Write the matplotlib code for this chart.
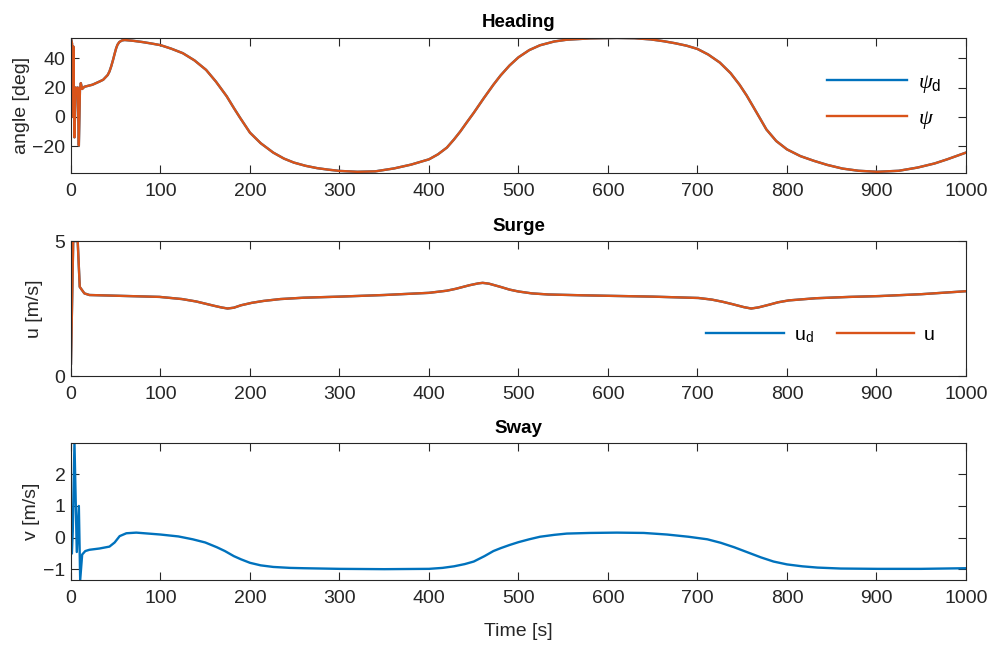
import numpy as np
import matplotlib
matplotlib.use("Agg")
import matplotlib.pyplot as plt

# ---------------- data ----------------
t_heading = [0, 1.2, 2.0, 2.6, 3.9, 5.2, 6.5, 7.5, 8.8, 10, 11, 12.5, 15, 24, 32, 36, 41, 43,
             45, 47, 49, 50.5, 52, 54, 57, 60, 69, 80, 90, 100, 112, 125, 138, 151, 162, 174,
             182, 189, 200, 212, 226, 238, 249, 262, 275, 287, 300, 320, 340, 361, 380, 400,
             410, 420, 428, 435, 442, 450, 461, 472, 480, 490, 500, 512, 524, 540, 554, 580,
             610, 630, 648, 662, 675, 688, 700, 712, 725, 737, 747, 755, 762, 770, 777, 788,
             800, 815, 830, 845, 862, 880, 901, 925, 946, 965, 979, 1000]
psi = [53.5, 50, 0, 48, -14, 20, 18, 20, -19.5, 18, 23, 19, 20.5, 21.9, 24.1, 25.3, 28.5, 30.9,
       34.5, 38.8, 43.5, 46.8, 49.2, 51.0, 52.1, 52.4, 51.9, 51.0, 50.0, 48.9, 46.5, 43.4,
       38.5, 32, 24, 14, 6, -0.7, -10.8, -18, -24.4, -28.5, -31.2, -33.4, -35, -36, -36.9,
       -37.5, -37.2, -35.2, -32.6, -29, -25.6, -21, -15.4, -10, -4, 2.7, 12.5, 21.9, 28.2,
       35.0, 40.6, 45.5, 48.8, 51.4, 52.6, 53.5, 53.8, 53.6, 52.8, 51.6, 50.2, 48.5, 46.3,
       42.5, 37.0, 29.8, 21.9, 14.5, 7.2, -1.2, -8.6, -16.5, -22.2, -26.8, -30, -32.8,
       -35.3, -36.8, -37.5, -36.8, -34.6, -31.8, -29, -24.4]
psi_d = list(psi)

t_surge = [0, 2.5, 7.5, 9.8, 15, 20.6, 43, 99, 124, 140, 150, 160, 168, 175, 182, 190, 202,
           215, 234, 260, 300, 350, 400, 420, 430, 445, 455, 460, 467, 480, 490, 500, 515,
           533, 570, 601, 650, 701, 716, 728, 738, 745, 752, 760, 768, 780, 790, 802, 832,
           870, 903, 950, 1000]
u = [0.46, 5.0, 5.0, 3.3, 3.06, 3.0, 2.98, 2.93, 2.85, 2.76, 2.68, 2.6, 2.54, 2.5, 2.53,
     2.62, 2.71, 2.78, 2.85, 2.9, 2.94, 3.0, 3.08, 3.16, 3.23, 3.36, 3.43, 3.45, 3.42, 3.3,
     3.2, 3.13, 3.06, 3.02, 2.99, 2.97, 2.94, 2.89, 2.83, 2.75, 2.67, 2.61, 2.55, 2.5, 2.54,
     2.64, 2.73, 2.8, 2.88, 2.93, 2.96, 3.03, 3.14]
u_d = list(u)

t_sway = [0, 1, 2, 3.9, 6.5, 8.8, 10.3, 12.5, 16, 20.6, 31.8, 43, 48.8, 54.4, 61.9, 73, 100,
          120, 136, 150, 163, 172, 182, 190, 200, 212, 226, 245, 260, 300, 350, 400, 415,
          428, 440, 450, 462, 472, 480, 490, 500, 512, 524, 540, 554, 580, 610, 640, 666,
          690, 711, 726, 741, 756, 771, 785, 800, 817, 834, 860, 901, 950, 1000]
v = [0, -0.5, 0.2, 2.98, -0.45, 1.0, -1.33, -0.53, -0.42, -0.38, -0.34, -0.28, -0.15, 0.05,
     0.14, 0.16, 0.1, 0.04, -0.05, -0.15, -0.3, -0.42, -0.58, -0.68, -0.79, -0.87, -0.92,
     -0.95, -0.96, -0.98, -0.99, -0.98, -0.95, -0.9, -0.83, -0.75, -0.58, -0.42, -0.33,
     -0.23, -0.14, -0.05, 0.03, 0.09, 0.13, 0.15, 0.16, 0.15, 0.1, 0.03, -0.05, -0.16,
     -0.3, -0.46, -0.62, -0.75, -0.84, -0.9, -0.94, -0.97, -0.98, -0.98, -0.96]

x_ticks = list(range(0, 1001, 100))
heading_ticks = [-20, 0, 20, 40]
surge_ticks = [0, 5]
sway_ticks = [-1, 0, 1, 2]

# ---------------- style ----------------
plt.rcParams['font.family'] = ['Liberation Sans', 'DejaVu Sans']
plt.rcParams['mathtext.fontset'] = 'custom'
plt.rcParams['mathtext.rm'] = 'Liberation Sans'
plt.rcParams['mathtext.it'] = 'Liberation Serif:italic'

BLUE = '#0072BD'
ORANGE = '#D95319'
AX_COL = '#262626'
FS = 14
LW = 1.7

fig = plt.figure(figsize=(9.94, 6.51), dpi=100)
ax1 = fig.add_axes([0.0714, 0.7343, 0.9004, 0.2074])
ax2 = fig.add_axes([0.0714, 0.4224, 0.9004, 0.2074])
ax3 = fig.add_axes([0.0714, 0.1091, 0.9004, 0.2104])


def style(ax):
    for s in ax.spines.values():
        s.set_color(AX_COL)
        s.set_linewidth(0.8)
    ax.tick_params(direction='in', top=True, right=True, length=5.5, width=0.8,
                   colors=AX_COL, labelsize=FS, labelcolor=AX_COL)
    ax.tick_params(axis='x', pad=7)
    ax.tick_params(axis='y', pad=4)
    ax.set_xlim(0, 1000)
    ax.set_xticks(x_ticks)


# Heading
ax1.plot(t_heading, psi_d, color=BLUE, lw=LW, label=r'$\psi_{\mathrm{d}}$')
ax1.plot(t_heading, psi, color=ORANGE, lw=LW, label=r'$\psi$')
style(ax1)
ax1.set_ylim(-38.3, 53.8)
ax1.set_yticks(heading_ticks)
ax1.set_title('Heading', fontsize=13.5, fontweight='bold', pad=8)
ax1.set_ylabel('angle [deg]', fontsize=FS, color=AX_COL, labelpad=2)
ax1.legend(loc='center right', bbox_to_anchor=(0.995, 0.53), frameon=False,
           fontsize=FS + 2, handlelength=3.6, labelspacing=0.6, handletextpad=0.5)

# Surge
ax2.plot(t_surge, u_d, color=BLUE, lw=LW, label=r'u$_{\mathrm{d}}$')
ax2.plot(t_surge, u, color=ORANGE, lw=LW, label='u')
style(ax2)
ax2.set_ylim(0, 5)
ax2.set_yticks(surge_ticks)
ax2.set_title('Surge', fontsize=13.5, fontweight='bold', pad=7)
ax2.set_ylabel('u [m/s]', fontsize=FS, color=AX_COL, labelpad=8)
ax2.legend(loc='center right', bbox_to_anchor=(0.985, 0.3), frameon=False, ncol=2,
           fontsize=FS, handlelength=4.0, handletextpad=0.5, columnspacing=1.2)

# Sway
ax3.plot(t_sway, v, color=BLUE, lw=LW)
style(ax3)
ax3.set_ylim(-1.33, 2.98)
ax3.set_yticks(sway_ticks)
ax3.set_title('Sway', fontsize=13.5, fontweight='bold', pad=7)
ax3.set_ylabel('v [m/s]', fontsize=FS, color=AX_COL, labelpad=2)
ax3.set_xlabel('Time [s]', fontsize=FS, color=AX_COL, labelpad=12)

fig.savefig('out.png', dpi=100)
